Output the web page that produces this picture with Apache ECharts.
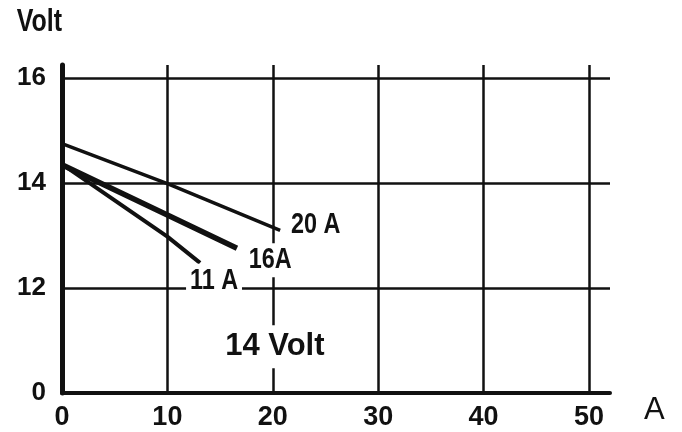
<!DOCTYPE html>
<html>
<head>
<meta charset="utf-8">
<script src="https://cdn.jsdelivr.net/npm/echarts@6/dist/echarts.min.js"></script>
<style>
  html, body { margin: 0; padding: 0; background: #fff; }
  #chart { width: 682px; height: 432px; }
</style>
</head>
<body>
<div id="chart"></div>
<script>
// Charging voltage vs. load current for three alternator ratings.
// The voltage axis is broken: its lowest tick is labelled 0 but sits one step below 12.
const xTicks = [0, 10, 20, 30, 40, 50];
const yTickValues = [10, 12, 14, 16];
const yTickLabels = ['0', '12', '14', '16'];

const current20 = [0, 10, 20.7];
const volt20 = [14.75, 13.99, 13.1];
const current16 = [0, 10, 16.6];
const volt16 = [14.35, 13.39, 12.76];
const current11 = [0, 10, 13.1];
const volt11 = [14.36, 12.98, 12.48];

const seriesNames = ['20 A', '16A', '11 A'];
const yAxisTitle = 'Volt';
const xAxisTitle = 'A';
const captionText = '14 Volt';
const captionAt = [20.2, 10.88];

const ink = '#111';
const plain = "'Liberation Sans', Arial, sans-serif";
const condensed = 0.78; // horizontal squeeze for the narrow lettering

function pairs(xs, ys) {
  return xs.map((x, i) => [x, ys[i]]);
}

function curve(name, xs, ys, width) {
  return {
    type: 'line',
    name: name,
    data: pairs(xs, ys),
    showSymbol: false,
    symbol: 'none',
    lineStyle: { color: ink, width: width, cap: 'butt' },
    z: 3,
    animation: false,
    silent: true
  };
}

const chart = echarts.init(document.getElementById('chart'), null, { renderer: 'canvas' });

chart.setOption({
  backgroundColor: '#fff',
  animation: false,
  grid: { left: 62, top: 65, width: 548, height: 328, containLabel: false },
  xAxis: {
    type: 'value',
    min: xTicks[0],
    max: 52,
    interval: 10,
    name: xAxisTitle,
    nameLocation: 'end',
    nameGap: 34,
    nameTextStyle: {
      color: ink, fontFamily: plain, fontSize: 31, align: 'left',
      verticalAlign: 'top', padding: [2, 0, 0, 0]
    },
    axisLine: { show: true, lineStyle: { color: ink, width: 4 } },
    axisTick: { show: false },
    axisLabel: {
      color: ink, fontFamily: plain, fontWeight: 'bold', fontSize: 27,
      margin: 11, showMaxLabel: false,
      formatter: v => (xTicks.indexOf(v) >= 0 ? String(v) : '')
    },
    splitLine: {
      show: true, showMinLine: false, showMaxLine: false,
      lineStyle: { color: ink, width: 2.5 }
    }
  },
  yAxis: {
    type: 'value',
    min: yTickValues[0],
    max: 16.25,
    interval: 2,
    axisLine: { show: true, lineStyle: { color: ink, width: 5 } },
    axisTick: { show: false },
    axisLabel: {
      color: ink, fontFamily: plain, fontWeight: 'bold', fontSize: 26,
      margin: 16, showMaxLabel: false,
      formatter: v => {
        const i = yTickValues.indexOf(v);
        return i >= 0 ? yTickLabels[i] : '';
      }
    },
    splitLine: {
      show: true, showMinLine: false, showMaxLine: false,
      lineStyle: { color: ink, width: 2.5 }
    }
  },
  series: [
    curve(seriesNames[0], current20, volt20, 3.5),
    curve(seriesNames[1], current16, volt16, 5.5),
    curve(seriesNames[2], current11, volt11, 4)
  ]
});

// Narrow lettering: curve names at each curve's end, the axis title and the caption.
function toPx(x, y) {
  return chart.convertToPixel({ gridIndex: 0 }, [x, y]);
}
function narrowText(text, x, y, align, size, mask) {
  return {
    type: 'text',
    x: x,
    y: y,
    scaleX: condensed,
    z: 10,
    style: {
      text: text,
      fill: ink,
      font: 'bold ' + size + 'px ' + plain,
      align: align,
      verticalAlign: 'middle',
      backgroundColor: mask ? '#fff' : null,
      padding: mask ? [3, 5, 1, 5] : 0
    }
  };
}

const ends = [
  { name: seriesNames[0], xs: current20, ys: volt20, dx: 7, dy: -6 },
  { name: seriesNames[1], xs: current16, ys: volt16, dx: 8, dy: 12 },
  { name: seriesNames[2], xs: current11, ys: volt11, dx: -14, dy: 18 }
];
const graphics = ends.map(e => {
  const n = e.xs.length - 1;
  const p = toPx(e.xs[n], e.ys[n]);
  return narrowText(e.name, p[0] + e.dx, p[1] + e.dy, 'left', 30, true);
});

const axisTop = toPx(0, 16.25);
graphics.push(narrowText(yAxisTitle, axisTop[0], 22, 'right', 32, false));

const cp = toPx(captionAt[0], captionAt[1]);
graphics.push({
  type: 'text',
  x: cp[0],
  y: cp[1],
  z: 10,
  style: {
    text: captionText,
    fill: ink,
    font: 'bold 31px ' + plain,
    align: 'center',
    verticalAlign: 'middle',
    backgroundColor: '#fff',
    padding: [6, 4, 6, 4]
  }
});

chart.setOption({ graphic: graphics });
</script>
</body>
</html>
